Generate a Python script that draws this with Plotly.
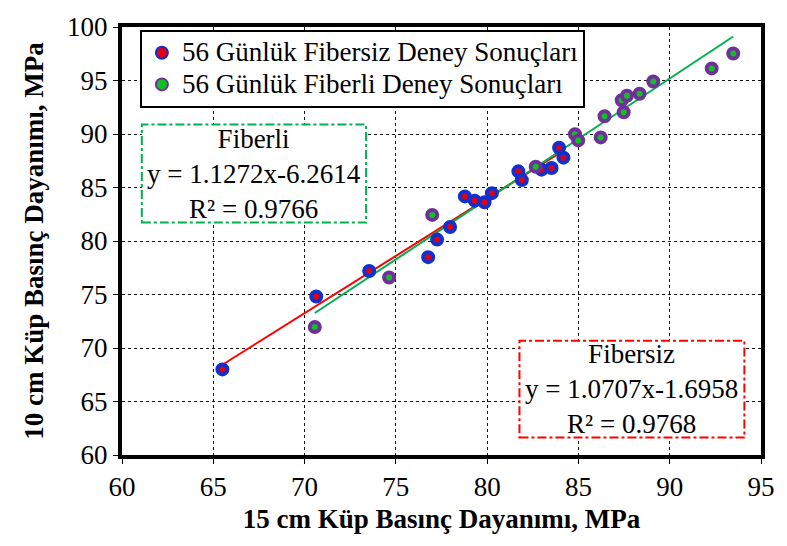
import plotly.graph_objects as go

# Fibersiz (no fiber) data
fibersiz_x = [65.5, 70.64, 73.54, 76.77, 77.26, 77.97, 78.78, 79.32, 79.86, 80.26,
              81.71, 81.90, 82.98, 83.53, 84.18, 83.94]
fibersiz_y = [68.0, 74.82, 77.2, 78.49, 80.13, 81.31, 84.17, 83.77, 83.62, 84.47,
              86.51, 85.69, 86.67, 86.82, 87.79, 88.71]

# Fiberli (with fiber) data
fiberli_x = [70.56, 74.63, 76.99, 82.66, 84.81, 84.99, 86.22, 86.43, 87.48, 87.37,
             87.66, 88.35, 89.10, 92.3, 93.48]
fiberli_y = [71.96, 76.59, 82.44, 86.94, 89.98, 89.4, 89.68, 91.66, 92.03, 93.15,
             93.58, 93.76, 94.91, 96.13, 97.53]

# Trendline coefficients (slope, intercept, R²)
fibersiz_fit = (1.0707, -1.6958, 0.9768)
fiberli_fit = (1.1272, -6.2614, 0.9766)

series_names = ["56 Günlük Fibersiz Deney Sonuçları", "56 Günlük Fiberli Deney Sonuçları"]
x_ticks = [60, 65, 70, 75, 80, 85, 90, 95]
y_ticks = [60, 65, 70, 75, 80, 85, 90, 95, 100]

FONT = "Times New Roman, Liberation Serif, serif"
FS = 27

fig = go.Figure()


def line_pts(xs, fit):
    a, b, _ = fit
    x0, x1 = min(xs), max(xs)
    return [x0, x1], [a * x0 + b, a * x1 + b]


lx, ly = line_pts(fibersiz_x, fibersiz_fit)
fig.add_trace(go.Scatter(x=lx, y=ly, mode="lines", line=dict(color="#ff0000", width=2),
                         showlegend=False, hoverinfo="skip"))
lx, ly = line_pts(fiberli_x, fiberli_fit)
fig.add_trace(go.Scatter(x=lx, y=ly, mode="lines", line=dict(color="#00b050", width=2),
                         showlegend=False, hoverinfo="skip"))


def legend_name(s):
    return f'<span style="font-size:{FS}px">{s}</span>'


fig.add_trace(go.Scatter(
    x=fibersiz_x, y=fibersiz_y, mode="markers", name=legend_name(series_names[0]),
    marker=dict(size=10, color="#e00010", line=dict(color="#1030d0", width=4))))
fig.add_trace(go.Scatter(
    x=fiberli_x, y=fiberli_y, mode="markers", name=legend_name(series_names[1]),
    marker=dict(size=10, color="#10c020", line=dict(color="#70309a", width=4))))

axis_common = dict(
    showline=True, mirror=True, linecolor="black", linewidth=4,
    showgrid=True, gridcolor="#111111", gridwidth=1, griddash="dot",
    ticks="outside", ticklen=5, tickcolor="black", tickwidth=1,
    tickfont=dict(family=FONT, size=FS, color="black"),
    ticklabeloverflow="allow",
    zeroline=False,
)

fig.update_xaxes(range=[60, 95], tickvals=x_ticks, **axis_common,
                 title=dict(text="<b>15 cm Küp Basınç Dayanımı, MPa</b>",
                            font=dict(family=FONT, size=FS, color="black"), standoff=9))
fig.update_yaxes(range=[60, 100], tickvals=y_ticks, **axis_common,
                 title=dict(text="<b>10 cm Küp Basınç Dayanımı, MPa</b>",
                            font=dict(family=FONT, size=FS, color="black"), standoff=17))


def box(x0, x1, y0, y1, color, title, fit):
    fig.add_shape(type="rect", xref="paper", yref="paper", x0=x0, x1=x1, y0=y0, y1=y1,
                  line=dict(color=color, width=2, dash="dashdot"), fillcolor="white", layer="above")
    a, b, r2 = fit
    txt = f"{title}<br>y = {a:.4f}x-{abs(b):.4f}<br>R² = {r2:.4f}"
    fig.add_annotation(xref="paper", yref="paper", x=(x0 + x1) / 2, y=(y0 + y1) / 2,
                       xanchor="center", yanchor="middle",
                       text=txt, showarrow=False, align="center",
                       font=dict(family=FONT, size=FS, color="black"))


box(0.031, 0.382, 0.543, 0.772, "#00b050", "Fiberli", fiberli_fit)
box(0.622, 0.974, 0.041, 0.267, "#ff0000", "Fibersiz", fibersiz_fit)

fig.update_layout(
    width=787, height=546,
    margin=dict(l=122, r=19, t=17, b=91),
    paper_bgcolor="white", plot_bgcolor="white",
    legend=dict(x=0.028, y=0.993, xanchor="left", yanchor="top",
                bgcolor="white", bordercolor="black", borderwidth=2,
                font=dict(family=FONT, size=22, color="black"),
                itemsizing="constant", tracegroupgap=0),
)

fig.write_html("out.html", config={"displayModeBar": False},
               post_script="document.body.style.margin='0px';")
